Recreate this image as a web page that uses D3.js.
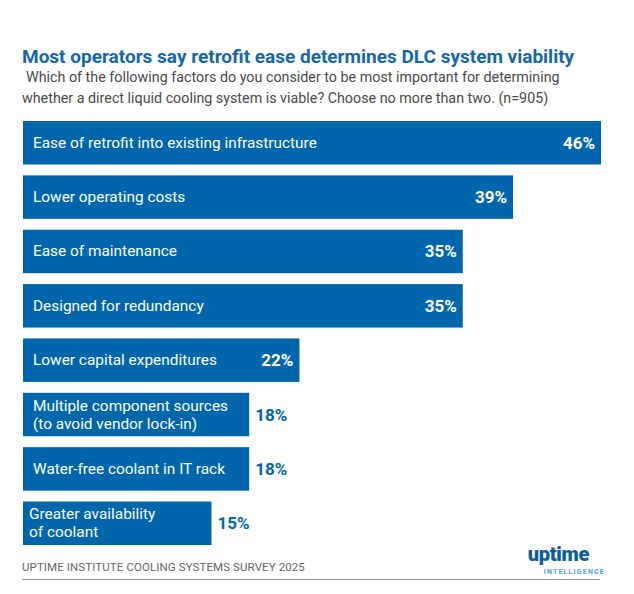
<!DOCTYPE html>
<html lang="en">
<head>
<meta charset="UTF-8">
<title>DLC system viability</title>
<script src="https://d3js.org/d3.v7.min.js"></script>
<style>
    body { margin: 0; background: #fff; font-family: Roboto, "Noto Sans", sans-serif; }
    .title { fill: #1467ad; font-size: 19px; font-weight: 700; }
    .subtitle { fill: #4a4a4a; font-size: 14.3px; }
    .cat { fill: #fff; font-size: 15.4px; }
    .val { font-size: 17px; font-weight: 700; }
    .source { fill: #666; font-size: 11.5px; letter-spacing: 0.1px; }
</style>
</head>
<body>
<div id="chart"></div>
<script>
    // survey answers, share of respondents (%)
    const categories = [
        ["Ease of retrofit into existing infrastructure"],
        ["Lower operating costs"],
        ["Ease of maintenance"],
        ["Designed for redundancy"],
        ["Lower capital expenditures"],
        ["Multiple component sources", "(to avoid vendor lock-in)"],
        ["Water-free coolant in IT rack"],
        ["Greater availability", "of coolant"]
    ];
    const values = [46, 39, 35, 35, 22, 18, 18, 15];
    const valueLabels = ["46%", "39%", "35%", "35%", "22%", "18%", "18%", "15%"];
    // last three bars carry their value outside the bar
    const labelOutside = [false, false, false, false, false, true, true, true];

    const W = 634, H = 594;
    const blue = "#0066ab";

    const data = values.map((v, i) => ({
        lines: categories[i], value: v, label: valueLabels[i], outside: labelOutside[i]
    }));

    const svg = d3.select("#chart").append("svg")
        .attr("width", W).attr("height", H);

    // title + question
    svg.append("text").attr("class", "title")
        .attr("x", 22).attr("y", 63)
        .text("Most operators say retrofit ease determines DLC system viability");
    svg.append("text").attr("class", "subtitle")
        .attr("x", 26).attr("y", 82)
        .text("Which of the following factors do you consider to be most important for determining");
    svg.append("text").attr("class", "subtitle")
        .attr("x", 22).attr("y", 103)
        .text("whether a direct liquid cooling system is viable? Choose no more than two. (n=905)");

    const x = d3.scaleLinear().domain([0, 46]).range([23, 601]);
    const y = d3.scaleBand().domain(d3.range(data.length))
        .range([121, 545]).paddingInner(0.2);

    const g = svg.selectAll(".bar").data(data).enter().append("g").attr("class", "bar");

    g.append("rect")
        .attr("x", x(0))
        .attr("y", (d, i) => y(i))
        .attr("width", d => x(d.value) - x(0))
        .attr("height", y.bandwidth())
        .attr("fill", blue);

    g.each(function(d, i) {
        const t = d3.select(this).append("text").attr("class", "cat");
        const mid = y(i) + y.bandwidth() / 2;
        const lh = 18;
        const x0 = d.lines.length > 1 && i === data.length - 1 ? 29 : 33;
        d.lines.forEach((ln, k) => {
            t.append("tspan")
                .attr("x", x0)
                .attr("y", mid + 5 + (k - (d.lines.length - 1) / 2) * lh)
                .text(ln);
        });
    });

    g.append("text").attr("class", "val")
        .attr("x", d => d.outside ? x(d.value) + 6 : x(d.value) - 6)
        .attr("y", (d, i) => y(i) + y.bandwidth() / 2 + 6)
        .attr("text-anchor", d => d.outside ? "start" : "end")
        .attr("fill", d => d.outside ? blue : "#fff")
        .text(d => d.label);

    // footer
    svg.append("text").attr("class", "source")
        .attr("x", 22).attr("y", 571)
        .text("UPTIME INSTITUTE COOLING SYSTEMS SURVEY 2025");
    svg.append("line")
        .attr("x1", 22).attr("x2", 600).attr("y1", 579.5).attr("y2", 579.5)
        .attr("stroke", "#999").attr("stroke-width", 1);

    svg.append("text")
        .attr("x", 589).attr("y", 561).attr("text-anchor", "end")
        .attr("fill", "#0b5c9c").attr("font-size", 20).attr("font-weight", 900)
        .attr("letter-spacing", -0.3)
        .text("uptime");
    svg.append("text")
        .attr("x", 605).attr("y", 574).attr("text-anchor", "end")
        .attr("fill", "#4aa3dc").attr("font-size", 7).attr("font-weight", 700)
        .attr("letter-spacing", 1.2)
        .text("INTELLIGENCE");
</script>
</body>
</html>
